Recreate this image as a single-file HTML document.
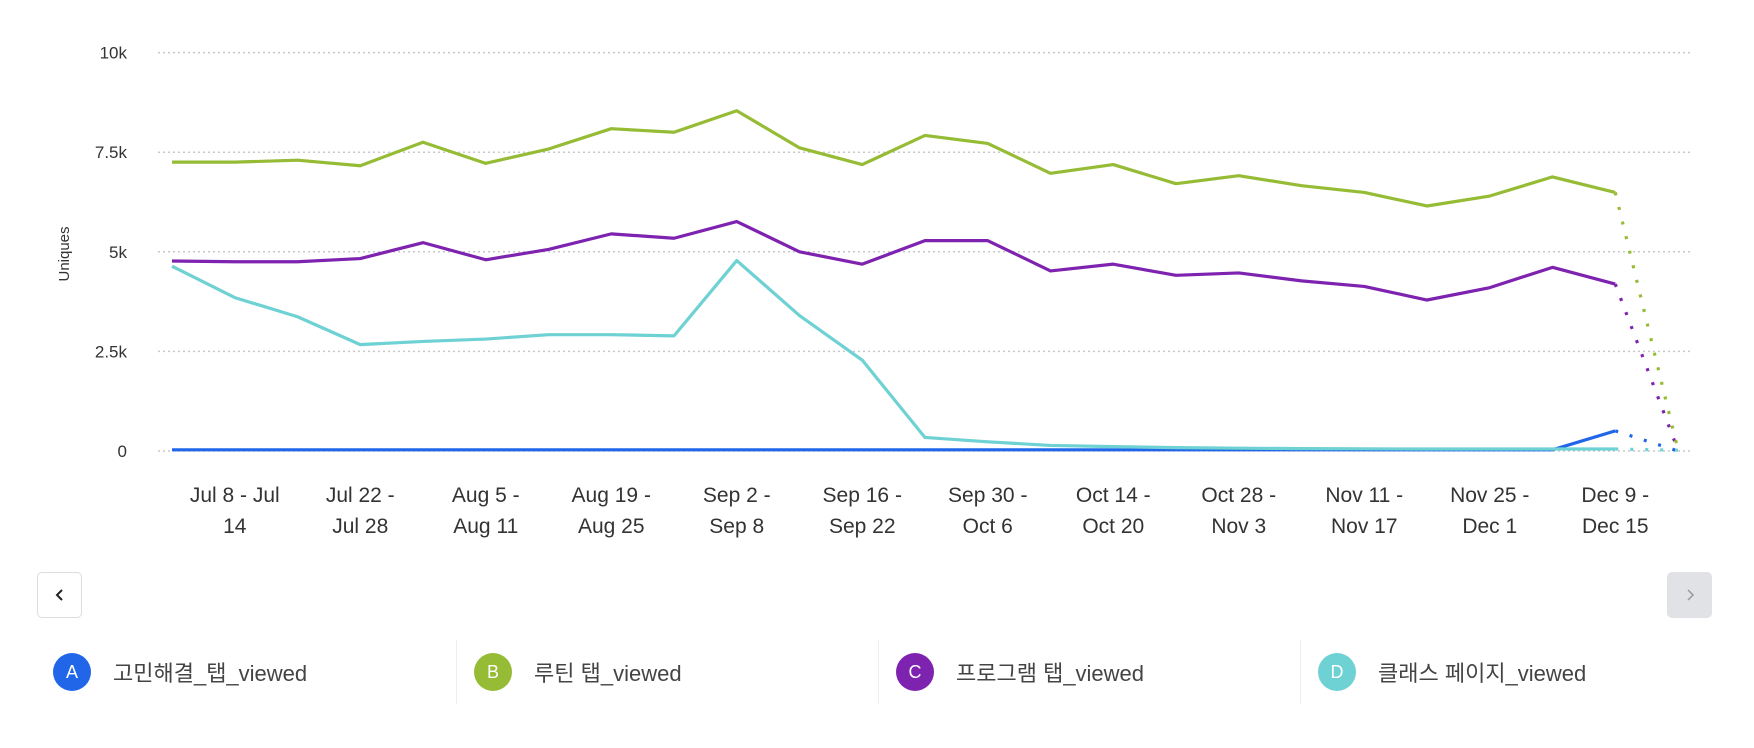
<!DOCTYPE html>
<html><head><meta charset="utf-8"><style>
body{margin:0;width:1754px;height:748px;background:#fff;overflow:hidden;font-family:"Liberation Sans","Noto Sans CJK KR",sans-serif;}
svg{position:absolute;left:0;top:0}
.btn{position:absolute;width:45px;height:46px;border-radius:5px;box-sizing:border-box;display:flex;align-items:center;justify-content:center}
.leg{position:absolute;top:640px;height:64px;display:flex;align-items:center}
.dot{width:38px;height:38px;border-radius:50%;color:#fff;font-size:18px;display:flex;align-items:center;justify-content:center;margin-right:22px}
.lt{font-size:22px;color:#444}
.div{position:absolute;top:640px;width:1px;height:64px;background:#eee}
</style></head><body>
<svg id="chart" width="1754" height="560"></svg>
<div class="btn" style="left:37px;top:572px;border:1.5px solid #ddd;background:#fff"><svg width="14" height="16" style="position:static"><path d="M9 3 L4 8 L9 13" stroke="#222" stroke-width="2" fill="none"/></svg></div>
<div class="btn" style="left:1667px;top:572px;background:#e1e2e5"><svg width="14" height="16" style="position:static"><path d="M5 3 L10 8 L5 13" stroke="#999" stroke-width="1.5" fill="none"/></svg></div>
<div class="leg" style="left:53px"><div class="dot" style="background:#2166e8">A</div><span class="lt">고민해결_탭_viewed</span></div>
<div class="div" style="left:456px"></div>
<div class="leg" style="left:474px"><div class="dot" style="background:#96bb34">B</div><span class="lt">루틴 탭_viewed</span></div>
<div class="div" style="left:878px"></div>
<div class="leg" style="left:896px"><div class="dot" style="background:#7e22b0">C</div><span class="lt">프로그램 탭_viewed</span></div>
<div class="div" style="left:1300px"></div>
<div class="leg" style="left:1318px"><div class="dot" style="background:#6ed1d3">D</div><span class="lt">클래스 페이지_viewed</span></div>
<script>
const weekLabels1=["Jul 8 - Jul","Jul 22 -","Aug 5 -","Aug 19 -","Sep 2 -","Sep 16 -","Sep 30 -","Oct 14 -","Oct 28 -","Nov 11 -","Nov 25 -","Dec 9 -"];
const weekLabels2=["14","Jul 28","Aug 11","Aug 25","Sep 8","Sep 22","Oct 6","Oct 20","Nov 3","Nov 17","Dec 1","Dec 15"];
const yTicks=[0,2500,5000,7500,10000];
const yTickLabels=["0","2.5k","5k","7.5k","10k"];
const seriesA=[30,30,30,30,30,30,30,30,30,30,30,30,30,30,30,30,30,30,30,30,30,30,30,505,0];
const seriesB=[7250,7250,7300,7160,7750,7220,7580,8090,8000,8540,7610,7190,7920,7720,6970,7190,6710,6910,6660,6490,6150,6400,6880,6490,30];
const seriesC=[4770,4750,4750,4830,5230,4800,5060,5450,5340,5760,5000,4690,5280,5280,4520,4690,4410,4470,4270,4130,3790,4100,4610,4190,20];
const seriesD=[4640,3850,3370,2670,2750,2810,2920,2920,2890,4780,3400,2280,340,230,140,110,85,70,60,55,50,50,50,50,20];
const colors=["#2166e8","#96bb34","#7e22b0","#6ed1d3"];
const NS="http://www.w3.org/2000/svg";
const svg=document.getElementById('chart');
const x=i=>172+i*62.75;
const y=v=>451-v/10000*398.4;
function mk(t,a){const e=document.createElementNS(NS,t);for(const k in a)e.setAttribute(k,a[k]);svg.appendChild(e);return e;}
yTicks.forEach((v,i)=>{
 const g=mk('line',{x1:158,x2:1692,y1:y(v),y2:y(v),stroke:'#c8c8cc','stroke-width':1.5,'stroke-dasharray':'2 3'});
 
 
 const t=mk('text',{x:127,y:y(v)+6,'text-anchor':'end','font-size':17,fill:'#333'});
 t.textContent=yTickLabels[i];
 
 
});
const yt=mk('text',{x:0,y:0,'font-size':15,fill:'#333','text-anchor':'middle',transform:'translate(69,254) rotate(-90)'});
yt.textContent='Uniques';


weekLabels1.forEach((l,i)=>{
 const cx=x(1+2*i);
 const t=mk('text',{x:cx,y:502,'text-anchor':'middle','font-size':21,fill:'#333'});
 t.textContent=l;
 
 
 const t2=mk('text',{x:cx,y:533,'text-anchor':'middle','font-size':21,fill:'#333'});
 t2.textContent=weekLabels2[i];
 
 
});
const names=['series-a-line','series-b-line','series-c-line','series-d-line'];
[seriesA,seriesD,seriesC,seriesB].forEach((s)=>{
 const idx=[seriesA,seriesB,seriesC,seriesD].indexOf(s);
 const n=s.length;
 const pts=s.slice(0,n-1).map((v,i)=>x(i)+','+y(v)).join(' ');
 const p=mk('polyline',{points:pts,fill:'none',stroke:colors[idx],'stroke-width':3.2,'stroke-linejoin':'round'});
 
 
 const d=mk('line',{x1:x(n-2),y1:y(s[n-2]),x2:x(n-1),y2:y(s[n-1]),stroke:colors[idx],'stroke-width':3.2,'stroke-dasharray':'3 12'});
 
 
});
</script>
</body></html>
